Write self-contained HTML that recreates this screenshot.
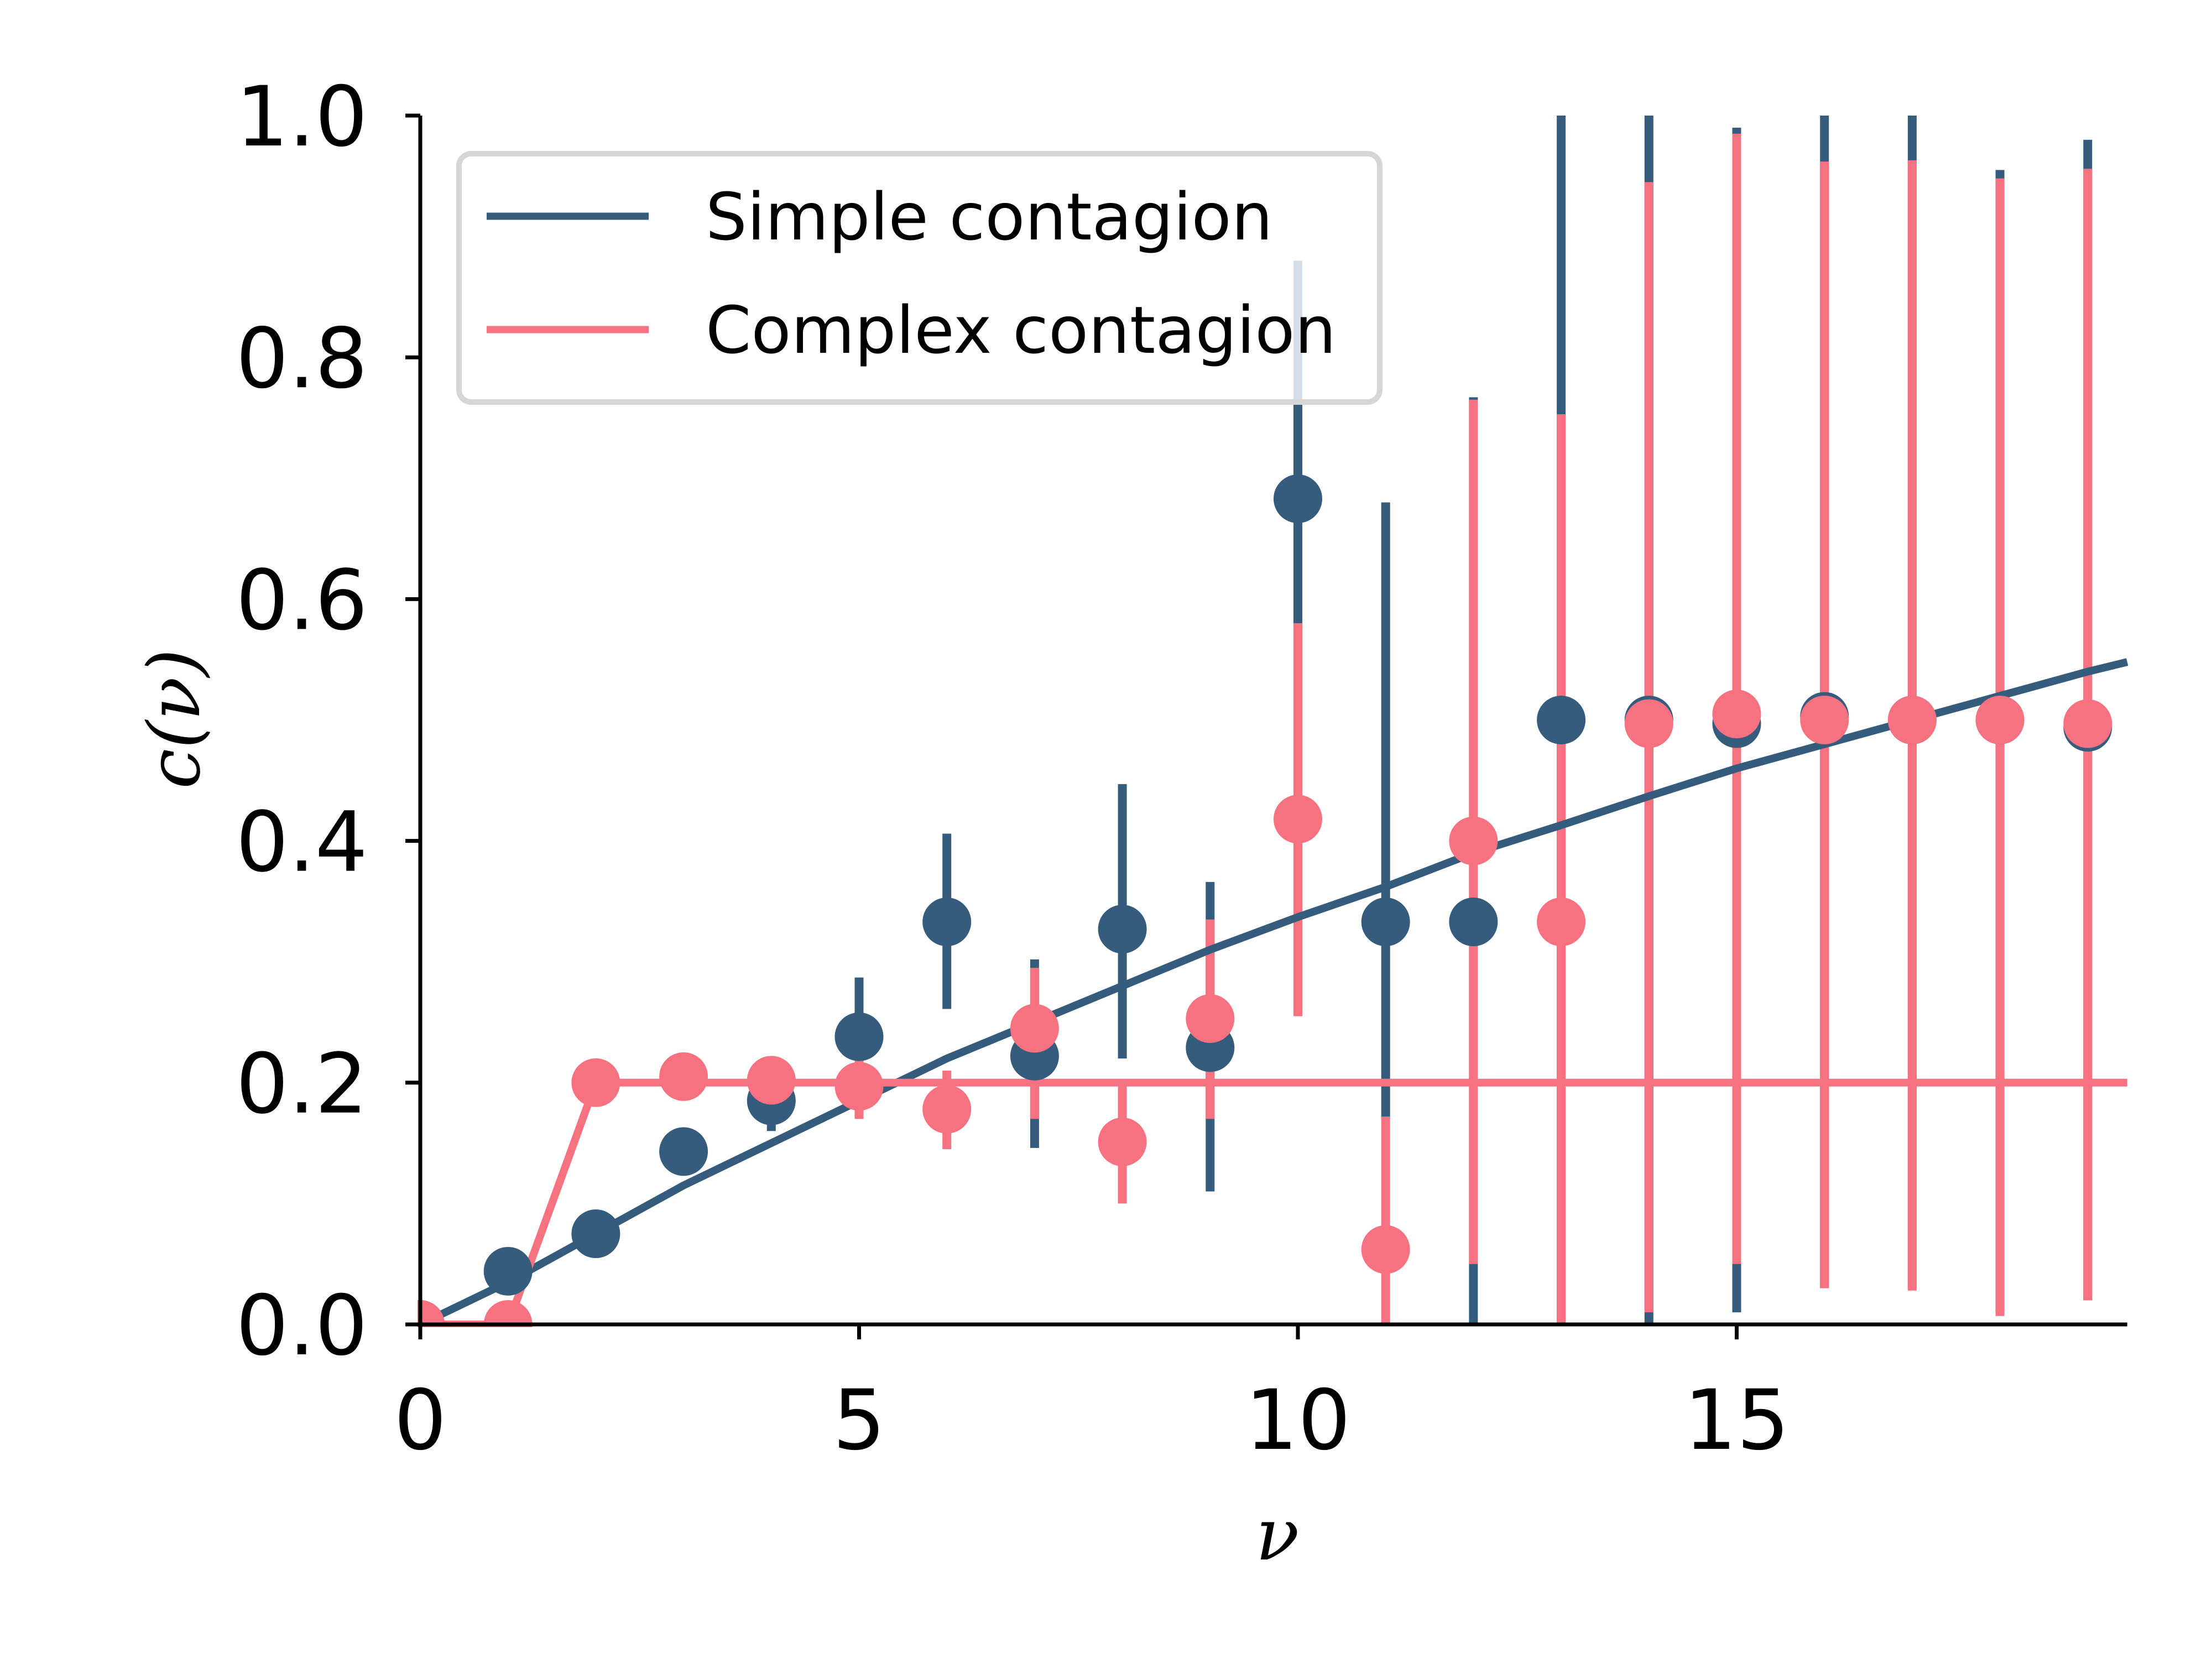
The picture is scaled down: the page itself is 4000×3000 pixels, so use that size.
<!DOCTYPE html>
<html><head><meta charset="utf-8"><style>
html,body{margin:0;padding:0;background:#fff;}
svg{display:block;}
</style></head><body>
<svg id="chart" width="4000" height="3000" viewBox="0 0 4000 3000" xmlns="http://www.w3.org/2000/svg">
<rect width="4000" height="3000" fill="#fff"/>
<g id="errs"></g>
<g id="lines"></g>
<g id="pts"></g>
<g id="axes"></g>
<g>
<rect x="830" y="278" width="1665" height="449" rx="22" fill="#fff" fill-opacity="0.8" stroke="#d6d6d6" stroke-width="10"/>
<line x1="880" y1="391" x2="1173" y2="391" stroke="#355c7d" stroke-width="13"/>
<text x="1276" y="433" font-family="'DejaVu Sans', 'Liberation Sans', sans-serif" font-size="118" fill="#000">Simple contagion</text>
<line x1="880" y1="596" x2="1173" y2="596" stroke="#f67280" stroke-width="13"/>
<text x="1276" y="638" font-family="'DejaVu Sans', 'Liberation Sans', sans-serif" font-size="118" fill="#000">Complex contagion</text>
</g>
<text x="2310" y="2820" text-anchor="middle" font-family="'DejaVu Serif', 'Liberation Serif', serif" font-style="italic" font-size="130">ν</text>
<text transform="translate(360,1300) rotate(-90)" text-anchor="middle" font-family="'DejaVu Serif', 'Liberation Serif', serif" font-style="italic" font-size="130">c(ν)</text>
</svg>
<script>
const nus = [0,1,2,3,4,5,6,7,8,9,10,11,12,13,14,15,16,17,18,19];
const simpleVals = [0,0.044,0.075,0.143,0.185,0.238,0.333,0.222,0.327,0.229,0.683,0.333,0.333,0.5,0.5,0.497,0.503,0.5,0.5,0.494];
const simpleLo = [0,0.04,0.07,0.14,0.16,0.2,0.261,0.146,0.22,0.11,0.58,0.17,0,0,0,0.01,0.03,0.03,0.01,0.02];
const simpleHi = [0,0.05,0.08,0.145,0.2,0.287,0.406,0.302,0.447,0.366,0.88,0.68,0.767,1.0,1.0,0.99,1.0,1.0,0.955,0.98];
const complexVals = [0,0,0.2,0.205,0.202,0.197,0.178,0.245,0.151,0.253,0.418,0.062,0.4,0.333,0.497,0.505,0.5,0.5,0.5,0.497];
const complexLo = [0,0,0.2,0.2,0.19,0.17,0.145,0.17,0.1,0.17,0.255,0,0.05,0,0.01,0.05,0.03,0.028,0.007,0.02];
const complexHi = [0,0,0.2,0.21,0.215,0.225,0.21,0.295,0.2,0.335,0.58,0.172,0.765,0.753,0.945,0.985,0.962,0.963,0.948,0.956];
const simpleFitX = [0,1,2,3,4,5,6,7,8,9,10,11,12,13,14,15,16,17,18,19,19.45];
const simpleFitY = [0,0.035,0.075,0.115,0.15,0.185,0.22,0.25,0.28,0.31,0.337,0.362,0.39,0.413,0.437,0.46,0.48,0.5,0.52,0.54,0.548];
const complexFitX = [0,1,2,19.45];
const complexFitY = [0,0,0.2,0.2];
const xTicks = [0,5,10,15];
const yTicks = [0,0.2,0.4,0.6,0.8,1.0];
const yTickLabels = ["0.0","0.2","0.4","0.6","0.8","1.0"];
const XMAX = 19.45;

const NS = "http://www.w3.org/2000/svg";
const X = v => 760 + v * 158.7;
const Y = v => 2395 - v * 2186;
const BLUE = "#355c7d", PINK = "#f67280";
function mk(tag, attrs, parent){const e=document.createElementNS(NS,tag);for(const k in attrs)e.setAttribute(k,attrs[k]);parent.appendChild(e);return e;}
const errs=document.getElementById('errs'), lines=document.getElementById('lines'), pts=document.getElementById('pts'), axes=document.getElementById('axes');

function drawErr(lo,hi,color,name){
  nus.forEach((n,i)=>{
    const l=mk('line',{x1:X(n),x2:X(n),y1:Y(lo[i]),y2:Y(hi[i]),stroke:color,'stroke-width':16},errs);
    
    
  });
}
drawErr(simpleLo,simpleHi,BLUE,'simple');
drawErr(complexLo,complexHi,PINK,'complex');

function drawLine(xs,ys,color,name){
  const d=xs.map((x,i)=>(i?'L':'M')+X(x)+' '+Y(ys[i])).join(' ');
  const p=mk('path',{d:d,fill:'none',stroke:color,'stroke-width':14},lines);
  
  
}
drawLine(simpleFitX,simpleFitY,BLUE,'simple-fit-line');
drawLine(complexFitX,complexFitY,PINK,'complex-fit-line');

function drawPts(vals,color,name){
  nus.forEach((n,i)=>{
    const c=mk('circle',{cx:X(n),cy:Y(vals[i]),r:44,fill:color},pts);
    
    
  });
}
drawPts(simpleVals,BLUE,'simple');
drawPts(complexVals,PINK,'complex');

const m1=mk('rect',{x:0,y:Y(0)+5,width:4000,height:700,fill:'#fff'},axes);


const m2=mk('rect',{x:0,y:0,width:X(0)-5,height:3000,fill:'#fff'},axes);



const ax=mk('line',{x1:X(0),x2:X(XMAX),y1:Y(0),y2:Y(0),stroke:'#000','stroke-width':7},axes);


const ay=mk('line',{x1:X(0),x2:X(0),y1:Y(0)+3,y2:Y(1),stroke:'#000','stroke-width':7},axes);



xTicks.forEach(t=>{
  const tk=mk('line',{x1:X(t),x2:X(t),y1:Y(0),y2:Y(0)+27,stroke:'#000','stroke-width':7},axes);
  
  
  const tx=mk('text',{x:X(t),y:2620,'text-anchor':'middle','font-family':"'DejaVu Sans', 'Liberation Sans', sans-serif",'font-size':150},axes);
  tx.textContent=String(t);
  
  
});
yTicks.forEach((t,i)=>{
  const tk=mk('line',{x1:X(0)-27,x2:X(0),y1:Y(t),y2:Y(t),stroke:'#000','stroke-width':7},axes);
  
  
  const tx=mk('text',{x:665,y:Y(t)+54,'text-anchor':'end','font-family':"'DejaVu Sans', 'Liberation Sans', sans-serif",'font-size':150},axes);
  tx.textContent=yTickLabels[i];
  
  
});
</script>
</body></html>
